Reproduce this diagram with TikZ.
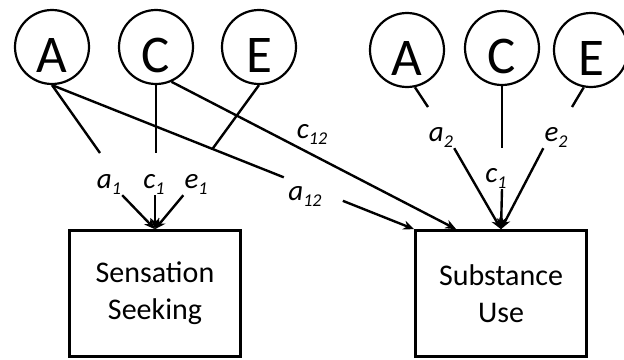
\documentclass[tikz,border=0pt]{standalone}
\usepackage{fontspec}
\setmainfont{Carlito}
\usetikzlibrary{arrows.meta,calc,positioning}

% path coefficient with a lowered index
\newcommand{\coef}[2]{#1\raisebox{-6pt}{\fontsize{18}{18}\selectfont #2}}

\begin{document}
\begin{tikzpicture}[x=1pt,y=-1pt,
  latent/.style={circle,draw,line width=2.2pt,minimum size=74pt,inner sep=0pt,
    text height=51pt,text depth=0pt,font=\fontsize{53}{53}\selectfont},
  obs/.style={rectangle,draw,line width=2.6pt,minimum width=171pt,minimum height=126pt,
    align=center,font=\fontsize{30}{37}\selectfont},
  coefl/.style={inner sep=1pt,font=\fontsize{29}{29}\selectfont\itshape},
  link/.style={line width=2.4pt},
  arr/.style={line width=2.4pt,-{Stealth[length=11pt,width=9pt]}}]
\useasboundingbox (0,0) rectangle (624,359);

% twin 1
\node[latent] (A1) at (52,47)  {A};
\node[latent] (C1) at (156,47) {C};
\node[latent] (E1) at (259,47) {E};
% twin 2
\node[latent] (A2) at (407,50) {A};
\node[latent] (C2) at (502,48) {C};
\node[latent] (E2) at (591,50) {E};

\node[obs] (SS) at (155,293.5) {Sensation\\Seeking};
\node[obs] (SU) at (501,293.5) {Substance\\Use};

\node[coefl] (la1)  at (109,184) {\coef{a}{1}};
\node[coefl] (lc1)  at (154,184) {\coef{c}{1}};
\node[coefl] (le1)  at (196,184) {\coef{e}{1}};
\node[coefl] (la12) at (305,196) {\coef{a}{12}};
\node[coefl] (lc12) at (312,134) {\coef{c}{12}};
\node[coefl] (la2)  at (441,137) {\coef{a}{2}};
\node[coefl] (lc2)  at (496,178) {\coef{c}{1}};
\node[coefl] (le2)  at (556,137) {\coef{e}{2}};

\coordinate (p1) at (100,153);
\coordinate (p2) at (156,153);
\coordinate (p3) at (428,107);
\coordinate (p4) at (502,148);
\coordinate (p5) at (572,107);
\path (A1.south) -- (SU.north west)
  coordinate[pos=0.443] (q0) coordinate[pos=0.64] (q1) coordinate[pos=0.803] (q2);

% sensation seeking
\draw[link] (A1.south) -- (p1);
\draw[link] (C1.south) -- (p2);
\draw[link] (E1.south) -- (q0);
\draw[arr] (la1.south east) -- (SS.north);
\draw[arr] (lc1.south -| SS.north) -- (SS.north);
\draw[arr] (le1.south west) -- (SS.north);

% cross paths
\draw[link] (A1.south) -- (q1);
\draw[arr] (q2) -- (SU.north west);
\draw[arr] (C1.-66) -- ($(SU.north west)+(42,0)$);

% substance use
\draw[link] (A2.-78) -- (p3);
\draw[link] (C2.south) -- (p4);
\draw[link] (E2.-101) -- (p5);
\draw[arr] (la2.south east) -- (SU.north);
\draw[arr] (lc2.south -| C2) -- (SU.north);
\draw[arr] (le2.south west) -- (SU.north);
\end{tikzpicture}
\end{document}
